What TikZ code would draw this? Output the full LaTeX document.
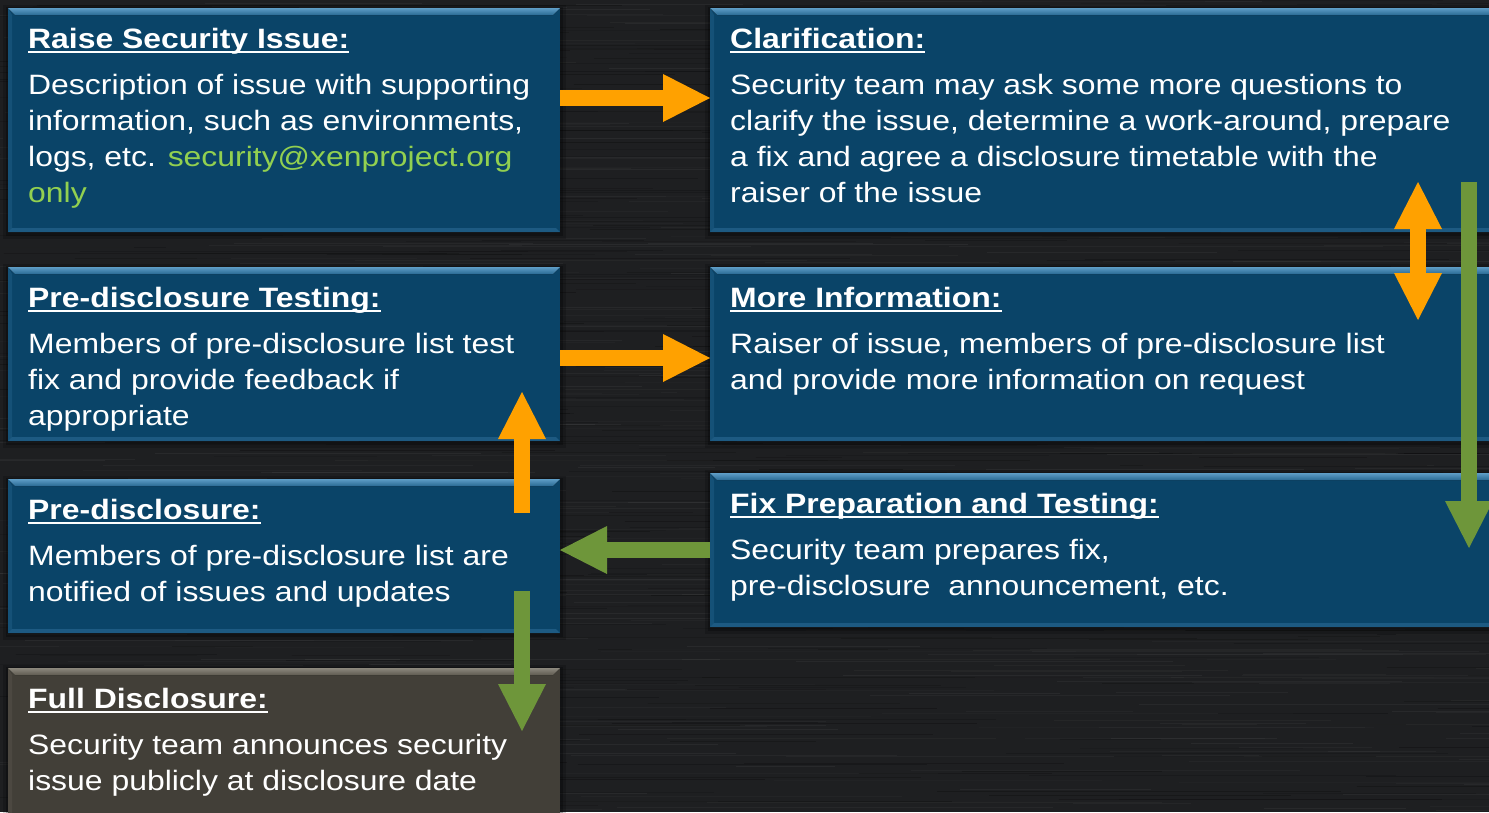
\documentclass[tikz,border=0pt]{standalone}
\usepackage{fontspec}
\setmainfont{Liberation Sans}[FakeStretch=1.14]
\usetikzlibrary{arrows.meta}

\definecolor{bg}{HTML}{1E1F21}
\definecolor{panel}{HTML}{0A4468}
\definecolor{panelhi}{HTML}{5E9DC6}
\definecolor{panelmid}{HTML}{2A6A94}
\definecolor{finalpanel}{HTML}{423F38}
\definecolor{finalhi}{HTML}{8C887D}
\definecolor{finalmid}{HTML}{5F5B52}
\definecolor{orangearr}{HTML}{FFA100}
\definecolor{greenarr}{HTML}{6E963A}
\definecolor{mail}{HTML}{92D050}

% underlined bold heading
\newcommand\hdr[1]{\leavevmode\setbox0\hbox{\bfseries #1}\rlap{\rule[-5pt]{\wd0}{2pt}}\box0}
% heading plus body, baseline of the heading is the box baseline
\newcommand\paneltext[2]{\parbox[t]{900pt}{\fontsize{28}{36}\selectfont\raggedright
  \hdr{#1}\par\vspace{10pt}#2}}
% bevelled panel decoration
\newcommand\bevel[4]{%
  \fill[black,opacity=0.18] ([xshift=-5pt,yshift=3pt]#1.north west) rectangle ([xshift=6pt,yshift=-7pt]#1.south east);
  \fill[black,opacity=0.25] ([xshift=-2pt,yshift=1pt]#1.north west) rectangle ([xshift=3pt,yshift=-4pt]#1.south east);
  \fill[#2] (#1.north west) rectangle (#1.south east);
  \fill[top color=#3, bottom color=#4] (#1.north west) -- (#1.north east)
     -- ([xshift=-7pt,yshift=-7pt]#1.north east) -- ([xshift=7pt,yshift=-7pt]#1.north west) -- cycle;
  \fill[#4,opacity=0.6] (#1.south west) -- (#1.south east)
     -- ([xshift=-4pt,yshift=4pt]#1.south east) -- ([xshift=4pt,yshift=4pt]#1.south west) -- cycle;
  \fill[#4,opacity=0.35] (#1.north west) -- ([xshift=4pt,yshift=-7pt]#1.north west)
     -- ([xshift=4pt,yshift=4pt]#1.south west) -- (#1.south west) -- cycle;
}

\tikzset{
  panelbox/.style={anchor=north west, inner sep=0pt, outer sep=0pt},
  txt/.style={anchor=base west, inner sep=0pt, text=white},
  oarr/.style={line width=16pt, orangearr, -{Triangle[width=48pt,length=47pt,line width=0pt]}},
  oarrboth/.style={line width=16pt, orangearr, {Triangle[width=48pt,length=47pt,line width=0pt]}-{Triangle[width=48pt,length=47pt,line width=0pt]}},
  garr/.style={line width=16pt, greenarr, -{Triangle[width=48pt,length=47pt,line width=0pt]}},
}

\begin{document}
\begin{tikzpicture}[x=1pt,y=-1pt]
\useasboundingbox (0,0) rectangle (1489,812);
\clip (0,0) rectangle (1489,812);

% brushed dark background
\fill[bg] (0,0) rectangle (1489,812);
\pgfmathsetseed{7}
\foreach \i in {1,...,600}{
  \pgfmathsetmacro\yy{rnd*812}
  \pgfmathsetmacro\xx{rnd*1600-100}
  \pgfmathsetmacro\ll{80+rnd*400}
  \pgfmathsetmacro\oo{0.015+0.035*rnd}
  \draw[line width=0.9pt, white, opacity=\oo] (\xx,\yy) -- ++(\ll,0);
}
\foreach \i in {1,...,500}{
  \pgfmathsetmacro\yy{rnd*812}
  \pgfmathsetmacro\xx{rnd*1600-100}
  \pgfmathsetmacro\ll{80+rnd*400}
  \pgfmathsetmacro\oo{0.08+0.15*rnd}
  \draw[line width=1pt, black, opacity=\oo] (\xx,\yy) -- ++(\ll,0);
}

% panels
\node[panelbox, minimum width=552pt, minimum height=224pt] (raise) at (8,8) {};
\node[panelbox, minimum width=800pt, minimum height=224pt] (clar) at (710,8) {};
\node[panelbox, minimum width=552pt, minimum height=174pt] (pdtest) at (8,267) {};
\node[panelbox, minimum width=800pt, minimum height=174pt] (more) at (710,267) {};
\node[panelbox, minimum width=552pt, minimum height=154pt] (predis) at (8,479) {};
\node[panelbox, minimum width=800pt, minimum height=154pt] (fix) at (710,473) {};
\node[panelbox, minimum width=552pt, minimum height=170pt] (full) at (8,668) {};

\bevel{raise}{panel}{panelhi}{panelmid}
\bevel{clar}{panel}{panelhi}{panelmid}
\bevel{pdtest}{panel}{panelhi}{panelmid}
\bevel{more}{panel}{panelhi}{panelmid}
\bevel{predis}{panel}{panelhi}{panelmid}
\bevel{fix}{panel}{panelhi}{panelmid}
\bevel{full}{finalpanel}{finalhi}{finalmid}

% panel texts
\node[txt] (raiseT) at ([xshift=20pt,yshift=-40pt]raise.north west)
  {\paneltext{Raise Security Issue:}{Description of issue with supporting\\
   information, such as environments,\\ logs, etc. {\color{mail}security@xenproject.org\\ only}}};
\node[txt] (clarT) at ([xshift=20pt,yshift=-40pt]clar.north west)
  {\paneltext{Clarification:}{Security team may ask some more questions to\\
   clarify the issue, determine a work-around, prepare\\
   a fix and agree a disclosure timetable with the\\ raiser of the issue}};
\node[txt] (pdtestT) at ([xshift=20pt,yshift=-40pt]pdtest.north west)
  {\paneltext{Pre-disclosure Testing:}{Members of pre-disclosure list test\\
   fix and provide feedback if\\ appropriate}};
\node[txt] (moreT) at ([xshift=20pt,yshift=-40pt]more.north west)
  {\paneltext{More Information:}{Raiser of issue, members of pre-disclosure list\\
   and provide more information on request}};
\node[txt] (predisT) at ([xshift=20pt,yshift=-40pt]predis.north west)
  {\paneltext{Pre-disclosure:}{Members of pre-disclosure list are\\
   notified of issues and updates}};
\node[txt] (fixT) at ([xshift=20pt,yshift=-40pt]fix.north west)
  {\paneltext{Fix Preparation and Testing:}{Security team prepares fix,\\
   pre-disclosure\ \ announcement, etc.}};
\node[txt] (fullT) at ([xshift=20pt,yshift=-40pt]full.north west)
  {\paneltext{Full Disclosure:}{Security team announces security\\
   issue publicly at disclosure date}};

% arrow end points inside the panels
\coordinate (dblTop) at (1418,182);
\coordinate (dblBot) at (1418,320);
\coordinate (fixTop) at (1469,182);
\coordinate (fixBot) at (1469,548);
\coordinate (upFrom) at (522,513);
\coordinate (upTo) at (522,392);
\coordinate (downFrom) at (522,591);
\coordinate (downTo) at (522,731);

% flow arrows
\draw[oarr] ([yshift=22pt]raise.east) -- ([yshift=22pt]clar.west);
\draw[oarr] ([yshift=-4pt]pdtest.east) -- ([yshift=-4pt]pdtest.east -| more.west);
\draw[oarrboth] (dblTop) -- (dblBot);
\draw[garr] (fixTop) -- (fixBot);
\draw[garr] (fix.west) -- (fix.west -| predis.east);
\draw[oarr] (upFrom) -- (upTo);
\draw[garr] (downFrom) -- (downTo);
\end{tikzpicture}
\end{document}
